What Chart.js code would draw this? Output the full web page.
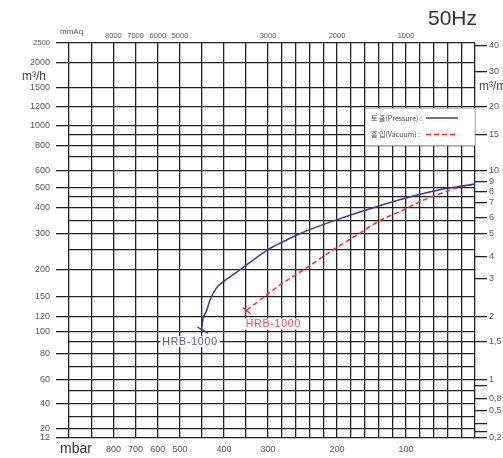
<!DOCTYPE html>
<html>
<head>
<meta charset="utf-8">
<script src="https://cdn.jsdelivr.net/npm/chart.js@4.4.0/dist/chart.umd.min.js"></script>
<style>
  html, body { margin: 0; padding: 0; background: #fff; }
</style>
</head>
<body>
<canvas id="chart" width="503" height="458"></canvas>
<script>
// ---- data ----
// pressure (discharge) curve: mbar -> m3/h
const pressureMbar = [451, 448, 439, 432, 417, 402, 371, 341, 300, 278, 254, 200, 152, 100, 51, 0];
const pressureFlow = [103, 116, 130, 145, 167, 178, 196, 219, 251, 276, 301, 354, 396, 445, 487, 520];
// vacuum (suction) curve: mbar -> m3/h
const vacuumMbar = [348, 283, 271, 242, 206, 171, 138, 104, 80, 56, 27, 0];
const vacuumFlow = [130, 172, 182, 208, 250, 297, 350, 391, 428, 460, 496, 520];

const modelName = 'HRB-1000';

// bottom axis (mbar)
const mbarGrid = [1000, 900, 800, 700, 600, 500, 450, 400, 350, 300, 280, 260, 240, 220, 200, 180, 160, 140, 120, 100, 80, 60, 40, 20, 0];
const mbarLabels = [800, 700, 600, 500, 400, 300, 200, 100];
// top axis (mmAq)
const mmAqLabels = [8000, 7000, 6000, 5000, 3000, 2000, 1000];
// left axis (m3/h)
const flowGrid = [2500, 2000, 1500, 1200, 1000, 900, 800, 700, 600, 500, 450, 400, 350, 300, 250, 200, 150, 120, 100, 90, 80, 70, 60, 50, 40, 30, 20, 12];
const flowLabels = [2500, 2000, 1500, 1200, 1000, 800, 600, 500, 400, 300, 200, 150, 120, 100, 80, 60, 40, 20, 12];
// right axis (m3/min)
const minTicks = [40, 30, 20, 15, 10, 9, 8, 7, 6, 5, 4, 3, 2, 1.5, 1, 0.9, 0.8, 0.5, 0.3, 0.25, 0.2];
const minLabels = ['40', '30', '20', '15', '10', '9', '8', '7', '6', '5', '4', '3', '2', '1,5', '1', '', '0,8', '0,5', '', '', '0,2'];

// ---- layout of the printed nomogram (value -> pixel) ----
const area = { left: 69, right: 475, top: 43, bottom: 438 };
const xKnots = [[1000, 69], [500, 180], [300, 268], [0, 475]];
const mmAqKnots = [[10000, 69], [5000, 180], [3000, 268], [0, 475]];
const yKnots = [
  [2500, 43], [2000, 62.7], [1500, 88], [1200, 107], [1000, 126], [900, 135], [800, 146],
  [700, 156.7], [600, 171], [500, 187.3], [450, 197], [400, 207.7], [350, 220.7], [300, 234],
  [250, 250], [200, 270], [150, 297], [120, 316.5], [100, 332], [90, 342], [80, 354],
  [70, 367], [60, 379.5], [50, 391], [40, 404], [30, 417], [20, 429], [12, 438]
];
const y2Knots = [
  [42, 43], [40, 45.7], [30, 71.7], [20, 107], [15, 135], [10, 171], [9, 182], [8, 192],
  [7, 203], [6, 218], [5, 234], [4, 257], [3, 279], [2, 317], [1.5, 342], [1, 380],
  [0.9, 386], [0.8, 399], [0.5, 411], [0.3, 424], [0.25, 431.7], [0.2, 438]
];

const toFracX = k => k.map(([v, p]) => [v, (p - area.left) / (area.right - area.left)]);
const toFracY = k => k.map(([v, p]) => [v, (area.bottom - p) / (area.bottom - area.top)]);

const layouts = {
  x: { knots: toFracX(xKnots), ticks: mbarGrid },
  x2: { knots: toFracX(mmAqKnots), ticks: mmAqLabels },
  y: { knots: toFracY(yKnots), ticks: flowGrid },
  y2: { knots: toFracY(y2Knots), ticks: minTicks }
};

// piecewise linear scale, so the irregular printed grid can be reproduced
class PiecewiseScale extends Chart.LinearScale {
  determineDataLimits() {
    const vals = layouts[this.id].knots.map(k => k[0]);
    this.min = Math.min(...vals);
    this.max = Math.max(...vals);
  }
  buildTicks() {
    return layouts[this.id].ticks.map(v => ({ value: v }));
  }
  _frac(value) {
    const k = layouts[this.id].knots;
    for (let i = 0; i < k.length - 1; i++) {
      const [v0, f0] = k[i], [v1, f1] = k[i + 1];
      const lo = Math.min(v0, v1), hi = Math.max(v0, v1);
      if (value >= lo && value <= hi || i === k.length - 2) {
        return f0 + (value - v0) / (v1 - v0) * (f1 - f0);
      }
    }
    return 0;
  }
  getPixelForValue(value) {
    if (value === null || value === undefined) return NaN;
    return this.getPixelForDecimal(this._frac(value));
  }
  getValueForPixel(pixel) {
    const d = this.getDecimalForPixel(pixel);
    const k = layouts[this.id].knots;
    for (let i = 0; i < k.length - 1; i++) {
      const [v0, f0] = k[i], [v1, f1] = k[i + 1];
      if (d >= Math.min(f0, f1) && d <= Math.max(f0, f1)) {
        return v0 + (d - f0) / (f1 - f0) * (v1 - v0);
      }
    }
    return k[0][0];
  }
}
PiecewiseScale.id = 'piecewise';
PiecewiseScale.defaults = Chart.LinearScale.defaults;
Chart.register(PiecewiseScale);

const FONT = '"Liberation Sans", Arial, sans-serif';
const KFONT = '"Noto Sans CJK KR", "Liberation Sans", sans-serif';
const GRID = '#222';
const BLUE = '#3a3a9c';
const RED = '#ff2a2a';

// texts, legend box, curve labels and end marks
const decorations = {
  id: 'decorations',
  beforeDatasetsDraw(chart) {
    const ctx = chart.ctx;
    ctx.save();
    // legend box
    ctx.fillStyle = '#fff';
    ctx.fillRect(365, 108, 110, 37.5);
    ctx.strokeStyle = '#b0b0b0';
    ctx.lineWidth = 0.8;
    ctx.strokeRect(365.5, 108.5, 109.5, 37);
    ctx.fillStyle = '#444';
    ctx.font = '7px ' + KFONT;
    ctx.textBaseline = 'middle';
    ctx.fillText('토 출(Pressure) :', 371, 118);
    ctx.fillText('흡 입(Vacuum) :', 371, 134.5);
    ctx.lineWidth = 1.5;
    ctx.strokeStyle = BLUE;
    ctx.beginPath(); ctx.moveTo(426, 118); ctx.lineTo(458, 118); ctx.stroke();
    ctx.strokeStyle = RED;
    ctx.setLineDash([5, 3]);
    ctx.beginPath(); ctx.moveTo(426, 134.5); ctx.lineTo(458, 134.5); ctx.stroke();
    ctx.restore();
  },
  afterDatasetsDraw(chart) {
    const ctx = chart.ctx;
    const x = chart.scales.x, y = chart.scales.y;
    ctx.save();
    // end marks
    const bx = x.getPixelForValue(pressureMbar[0]), by = y.getPixelForValue(pressureFlow[0]);
    const rx = x.getPixelForValue(vacuumMbar[0]), ry = y.getPixelForValue(vacuumFlow[0]);
    ctx.lineWidth = 1.3;
    ctx.strokeStyle = BLUE;
    ctx.beginPath(); ctx.moveTo(bx - 4, by - 2.5); ctx.lineTo(bx + 6.5, by + 3.5); ctx.stroke();
    ctx.strokeStyle = RED;
    ctx.beginPath(); ctx.moveTo(rx - 4, ry - 2.5); ctx.lineTo(rx + 4, ry + 4); ctx.stroke();

    // curve labels
    ctx.font = '10.5px ' + FONT;
    ctx.textAlign = 'center';
    ctx.textBaseline = 'middle';
    if ('letterSpacing' in ctx) ctx.letterSpacing = '0.8px';
    const label = (cx, cy, color) => {
      const w = ctx.measureText(modelName).width + 4;
      ctx.fillStyle = '#fff';
      ctx.fillRect(cx - w / 2, cy - 5.5, w, 11);
      ctx.fillStyle = color;
      ctx.fillText(modelName, cx, cy + 0.5);
    };
    label(bx - 11.5, by + 12, '#5656ac');
    label(rx + 26.5, ry + 14, '#ff4a4a');
    if ('letterSpacing' in ctx) ctx.letterSpacing = '0px';

    // axis titles
    ctx.textAlign = 'left';
    ctx.fillStyle = '#555';
    ctx.font = '8px ' + FONT;
    ctx.fillText('mmAq', 60, 32);
    ctx.fillStyle = '#444';
    ctx.font = '12px ' + FONT;
    ctx.fillText('m³/h', 22, 77);
    ctx.fillText('m³/min', 479, 87);
    ctx.fillStyle = '#333';
    ctx.font = '14px ' + FONT;
    ctx.fillText('mbar', 60, 449);
    ctx.font = '21px ' + FONT;
    ctx.textAlign = 'right';
    ctx.textBaseline = 'alphabetic';
    ctx.fillText('50Hz', 477, 25);
    ctx.restore();
  }
};

new Chart(document.getElementById('chart'), {
  type: 'line',
  data: {
    datasets: [
      {
        label: '토 출(Pressure)',
        data: pressureMbar.map((m, i) => ({ x: m, y: pressureFlow[i] })),
        borderColor: BLUE,
        borderWidth: 1.5,
        pointRadius: 0,
        cubicInterpolationMode: 'monotone',
        fill: false
      },
      {
        label: '흡 입(Vacuum)',
        data: vacuumMbar.map((m, i) => ({ x: m, y: vacuumFlow[i] })),
        borderColor: RED,
        borderWidth: 1.5,
        borderDash: [5, 3],
        pointRadius: 0,
        cubicInterpolationMode: 'monotone',
        fill: false
      }
    ]
  },
  options: {
    responsive: false,
    animation: false,
    devicePixelRatio: 1,
    layout: { padding: 0 },
    plugins: { legend: { display: false }, tooltip: { enabled: false }, title: { display: false } },
    scales: {
      x: {
        type: 'piecewise',
        position: 'bottom',
        afterFit: s => { s.height = 20; },
        border: { display: false },
        grid: { color: GRID, lineWidth: 1.3, drawTicks: false },
        ticks: {
          autoSkip: false, maxRotation: 0, padding: 6,
          color: '#555', font: { family: FONT, size: 9 },
          callback: v => mbarLabels.includes(v) ? String(v) : ''
        }
      },
      x2: {
        type: 'piecewise',
        position: 'top',
        afterFit: s => { s.height = 43; },
        border: { display: false },
        grid: { display: false, drawTicks: false },
        ticks: {
          autoSkip: false, maxRotation: 0, padding: 3,
          color: '#555', font: { family: FONT, size: 7.5 },
          callback: v => String(v)
        }
      },
      y: {
        type: 'piecewise',
        position: 'left',
        afterFit: s => { s.width = 69; },
        border: { display: false },
        grid: {
          color: GRID, lineWidth: 1.3, tickLength: 13,
          tickColor: c => flowLabels.includes(c.tick.value) ? GRID : 'rgba(0,0,0,0)'
        },
        ticks: {
          autoSkip: false, padding: 6, color: '#555',
          font: c => ({ family: FONT, size: c.tick && c.tick.value === 2500 ? 7.5 : 9 }),
          callback: v => flowLabels.includes(v) ? String(v) : ''
        }
      },
      y2: {
        type: 'piecewise',
        position: 'right',
        afterFit: s => { s.width = 28; },
        border: { display: false },
        grid: { drawOnChartArea: false, tickLength: 12, tickColor: GRID, lineWidth: 1.3 },
        ticks: {
          autoSkip: false, padding: 2, color: '#555',
          font: { family: FONT, size: 9 },
          callback: (v, i) => minLabels[i]
        }
      }
    }
  },
  plugins: [decorations]
});
</script>
</body>
</html>
